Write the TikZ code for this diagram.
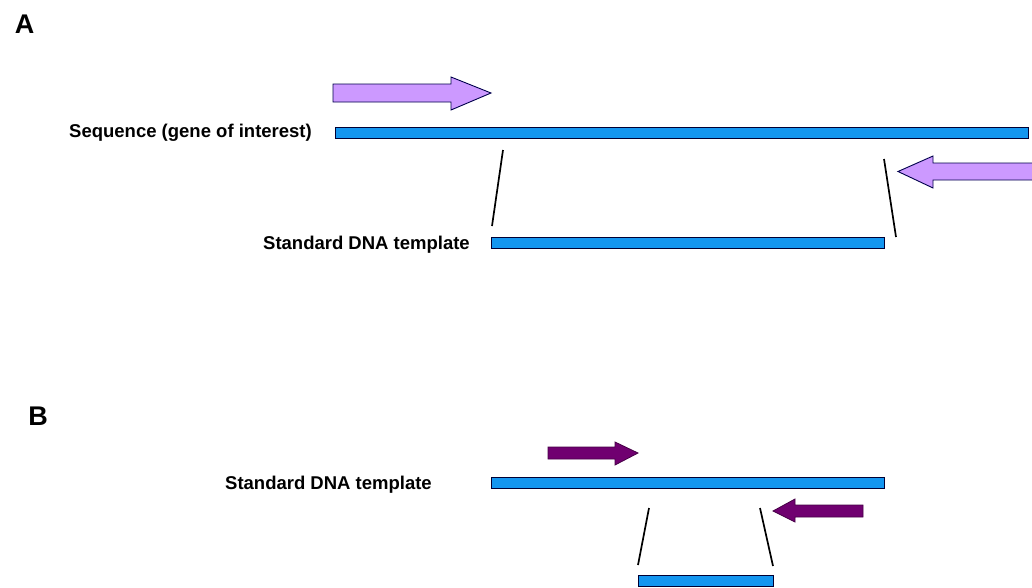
\documentclass[tikz,border=0pt]{standalone}
\usepackage{fontspec}
\setmainfont{Liberation Sans}
\begin{document}
\begin{tikzpicture}[x=1pt,y=-1pt,
  bar/.style={draw=black!80!blue, line width=0.8pt, fill=dnablue, inner sep=0pt, minimum height=11pt},
  lightprimer/.style={draw=black!70!blue, line width=0.9pt, fill=lavender},
  darkprimer/.style={draw=darkplum, line width=0.8pt, fill=plum},
  guide/.style={draw=black, line width=1.7pt},
  lbl/.style={inner sep=0pt, font=\bfseries\fontsize{18.5}{20}\selectfont, text=black},
  panel/.style={inner sep=0pt, font=\bfseries\fontsize{27}{29}\selectfont, text=black}]
\definecolor{dnablue}{RGB}{20,150,240}
\definecolor{lavender}{RGB}{204,153,255}
\definecolor{plum}{RGB}{112,0,112}
\definecolor{darkplum}{RGB}{70,0,70}
\useasboundingbox[fill=white] (0,0) rectangle (1032,587);

% panel letters
\node[panel] (pA) at (24.5,24) {A};
\node[panel] (pB) at (38,416) {B};

% bars
\node[bar, minimum width=693pt] (bar1) at (681.5,132.5) {};
\node[bar, minimum width=393pt] (bar2) at (687.5,242.5) {};
\node[bar, minimum width=393pt] (bar3) at (687.5,482.5) {};
\node[bar, minimum width=135pt] (bar4) at (705.5,581) {};

% labels
\node[lbl, anchor=east] (lseq) at (312,133) {Sequence (gene of interest)};
\node[lbl, anchor=east] (ltA) at (470,245) {Standard DNA template};
\node[lbl, anchor=east] (ltB) at (432,485) {Standard DNA template};

% primers panel A
\path[lightprimer] (333,84) -- (451,84) -- (451,77) -- (491,93) -- (451,110) -- (451,102) -- (333,102) -- cycle;
\path[lightprimer] (1036,163) -- (933,163) -- (933,156) -- (898,171.5) -- (933,188) -- (933,180) -- (1036,180) -- cycle;

% primers panel B
\path[darkprimer] (548,447) -- (615,447) -- (615,442) -- (638,453) -- (615,465) -- (615,459) -- (548,459) -- cycle;
\path[darkprimer] (863,505) -- (795,505) -- (795,499) -- (773,511) -- (795,522) -- (795,517) -- (863,517) -- cycle;

% guide lines
\coordinate (a1) at (503,150); \coordinate (a2) at (492,226);
\coordinate (a3) at (884,159); \coordinate (a4) at (896,237);
\coordinate (b1) at (649,508); \coordinate (b2) at (638,565);
\coordinate (b3) at (760,508); \coordinate (b4) at (773,566);
\draw[guide] (a1) -- (a2);
\draw[guide] (a3) -- (a4);
\draw[guide] (b1) -- (b2);
\draw[guide] (b3) -- (b4);
\end{tikzpicture}
\end{document}
